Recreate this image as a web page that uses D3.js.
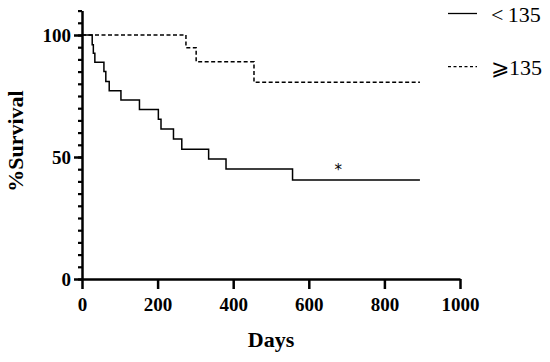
<!DOCTYPE html>
<html><head><meta charset="utf-8">
<script src="https://cdn.jsdelivr.net/npm/d3@7"></script>
<style>body{margin:0;background:#fff}svg{display:block}</style>
</head><body>
<svg id="chart" width="550" height="362"></svg>
<script>
// Data
const groupLow = "<\u2009135";
const groupHigh = "\u2A7E135";
const lowDays = [0, 27, 30, 34, 58, 63, 72, 103, 152, 202, 209, 242, 264, 335, 381, 557, 894];
const lowSurvival = [100, 96, 92.5, 88.8, 85, 80.9, 77.2, 73.4, 69.5, 65.5, 61.5, 57.4, 53.2, 49.2, 45.1, 40.6, 40.6];
const highDays = [0, 275, 302, 455, 894];
const highSurvival = [100, 94.8, 89, 80.6, 80.6];
const xTicks = [0, 200, 400, 600, 800, 1000];
const yTicks = [0, 50, 100];
const yMinorTicks = d3.range(0, 111, 5);
const sigMark = {day: 678, value: 46, text: "*"};

const svg = d3.select("#chart");
const x = d3.scaleLinear().domain([0, 1000]).range([82, 460]);
const y = d3.scaleLinear().domain([0, 110]).range([279, 10.6]);
const serif = "'Liberation Serif', 'Times New Roman', serif";

// minor y ticks
const yMinor = svg.append("g").attr("transform", `translate(${x(0)},0)`)
  .call(d3.axisLeft(y).tickValues(yMinorTicks).tickSize(4).tickFormat(""));
yMinor.select(".domain").remove();
yMinor.selectAll("line").attr("stroke", "#000").attr("stroke-width", 2.2);

// y axis
const yAx = svg.append("g").attr("transform", `translate(${x(0)},0)`)
  .call(d3.axisLeft(y).tickValues(yTicks).tickFormat(d3.format("d")).tickSize(8).tickSizeOuter(0).tickPadding(3));
yAx.select(".domain").attr("stroke", "#000").attr("stroke-width", 2.5);
yAx.selectAll("line").attr("stroke", "#000").attr("stroke-width", 2.5);
yAx.selectAll("text").attr("font-family", serif).attr("font-weight", "bold")
  .attr("font-size", 19).attr("fill", "#000");

// x axis
const xAx = svg.append("g").attr("transform", `translate(0,${y(0)})`)
  .call(d3.axisBottom(x).tickValues(xTicks).tickFormat(d3.format("d")).tickSize(10).tickSizeOuter(0).tickPadding(9));
xAx.select(".domain").attr("stroke", "#000").attr("stroke-width", 2.5);
xAx.selectAll("line").attr("stroke", "#000").attr("stroke-width", 2.5);
xAx.selectAll("text").attr("font-family", serif).attr("font-weight", "bold")
  .attr("font-size", 19).attr("fill", "#000");

// titles
svg.append("text").attr("x", 271).attr("y", 347).attr("text-anchor", "middle")
  .attr("font-family", serif).attr("font-weight", "bold").attr("font-size", 22).attr("fill", "#000").text("Days");
svg.append("text").attr("transform", "translate(23,141) rotate(-90)").attr("text-anchor", "middle")
  .attr("font-family", serif).attr("font-weight", "bold").attr("font-size", 22).attr("fill", "#000").text("%Survival");

// curves
const line = d3.line().curve(d3.curveStepAfter).x(d => x(d[0])).y(d => y(d[1]));
svg.append("path").datum(highDays.map((d, i) => [d, highSurvival[i]]))
  .attr("d", line).attr("fill", "none").attr("stroke", "#000").attr("stroke-width", 1.5)
  .attr("stroke-dasharray", "4,2.5");
svg.append("path").datum(lowDays.map((d, i) => [d, lowSurvival[i]]))
  .attr("d", line).attr("fill", "none").attr("stroke", "#000").attr("stroke-width", 1.5);

// significance mark
svg.append("text").attr("x", x(sigMark.day)).attr("y", y(sigMark.value) + 8)
  .attr("text-anchor", "middle").attr("font-family", "'DejaVu Sans', sans-serif")
  .attr("font-size", 15).attr("fill", "#000").text(sigMark.text);

// legend
const legend = [
  {label: groupLow, dash: null, y: 13.5},
  {label: groupHigh, dash: "3,2.5", y: 66.7}
];
legend.forEach(l => {
  svg.append("line").attr("x1", 448).attr("x2", 477).attr("y1", l.y).attr("y2", l.y)
    .attr("stroke", "#000").attr("stroke-width", 1.3)
    .attr("stroke-dasharray", l.dash);
  svg.append("text").attr("x", 491).attr("y", l.y + 8)
    .attr("font-family", serif).attr("font-size", 22).attr("fill", "#000").text(l.label);
});
</script>
</body></html>
